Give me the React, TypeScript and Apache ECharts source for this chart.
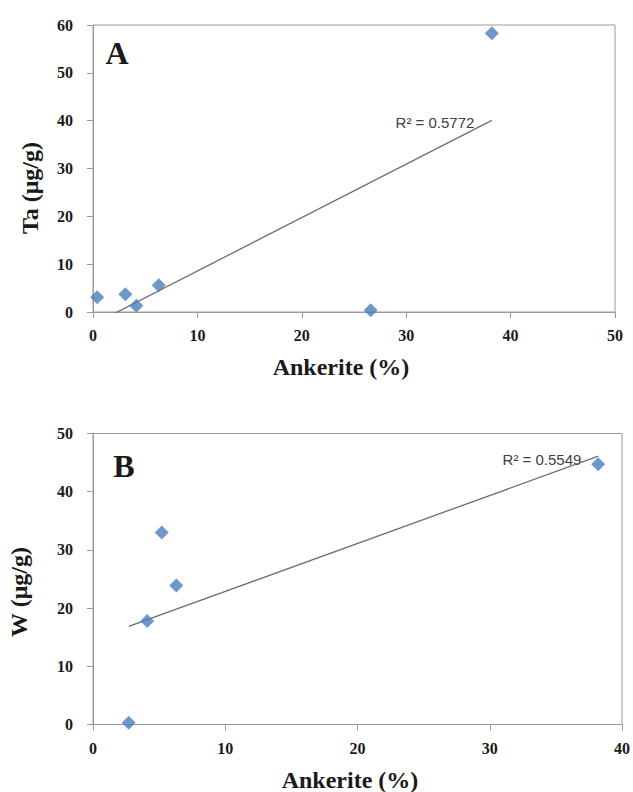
import React, { useEffect, useRef } from "react";
import * as echarts from "echarts";

// Panel A: Ta vs Ankerite
const taAnkerite = [0.4, 3.1, 4.15, 6.3, 26.6, 38.2];
const taValues = [3.1, 3.7, 1.3, 5.6, 0.35, 58.3];
const r2LabelA = "R\u00B2 = 0.5772";

// Panel B: W vs Ankerite
const wAnkerite = [2.7, 4.1, 5.2, 6.3, 38.2];
const wValues = [0.3, 17.8, 33.0, 23.9, 44.7];
const r2LabelB = "R\u00B2 = 0.5549";

const xTitle = "Ankerite (%)";
const yTitleA = "Ta (\u03BCg/g)";
const yTitleB = "W (\u03BCg/g)";

function fit(xs: number[], ys: number[]) {
  const n = xs.length;
  const mx = xs.reduce((a, b) => a + b, 0) / n;
  const my = ys.reduce((a, b) => a + b, 0) / n;
  let sxy = 0;
  let sxx = 0;
  for (let i = 0; i < n; i++) {
    sxy += (xs[i] - mx) * (ys[i] - my);
    sxx += (xs[i] - mx) * (xs[i] - mx);
  }
  const slope = sxy / sxx;
  const icpt = my - slope * mx;
  const x0 = Math.min(...xs);
  const x1 = Math.max(...xs);
  return [
    [x0, icpt + slope * x0],
    [x1, icpt + slope * x1],
  ];
}

const SERIF = "Liberation Serif";
const SANS = "Liberation Sans";
const AXIS_COLOR = "#9a9a9a";
const MARK_COLOR = "#4a7ebb";

function axisCommon(max: number) {
  return {
    min: 0,
    max,
    interval: 10,
    splitLine: { show: false },
    axisLine: { show: true, onZero: false, lineStyle: { color: AXIS_COLOR, width: 1 } },
    axisTick: { show: true, inside: false, length: 6, lineStyle: { color: AXIS_COLOR } },
  };
}

export default function App() {
  const ref = useRef<HTMLDivElement>(null);
  useEffect(() => {
    if (!ref.current) return;
    const chart = echarts.init(ref.current, undefined, { renderer: "svg" });
    const labelStyle = {
      fontFamily: SERIF,
      fontWeight: "bold",
      fontSize: 16,
      color: "#1a1a1a",
    };
    const text = (
      t: string,
      x: number,
      y: number,
      size: number,
      family: string,
      weight: string,
      fill: string,
      rot = 0
    ) => ({
      type: "text",
      x,
      y,
      rotation: rot,
      style: {
        text: t,
        fontSize: size,
        fontFamily: family,
        fontWeight: weight,
        fill,
        textAlign: "center",
        textVerticalAlign: "middle",
        align: "center",
        verticalAlign: "middle",
      },
    });
    chart.setOption({
      animation: false,
      backgroundColor: "#ffffff",
      textStyle: { fontFamily: SERIF },
      grid: [
        { left: 93, top: 25, width: 522, height: 287, show: true, borderColor: AXIS_COLOR, borderWidth: 1, backgroundColor: "transparent" },
        { left: 93, top: 433.5, width: 529, height: 291, show: true, borderColor: AXIS_COLOR, borderWidth: 1, backgroundColor: "transparent" },
      ],
      xAxis: [
        { type: "value", gridIndex: 0, ...axisCommon(50), axisLabel: { ...labelStyle, margin: 15 } },
        { type: "value", gridIndex: 1, ...axisCommon(40), axisLabel: { ...labelStyle, margin: 16 } },
      ],
      yAxis: [
        { type: "value", gridIndex: 0, ...axisCommon(60), axisLabel: { ...labelStyle, margin: 20 } },
        { type: "value", gridIndex: 1, ...axisCommon(50), axisLabel: { ...labelStyle, margin: 20 } },
      ],
      series: [
        {
          type: "line",
          xAxisIndex: 0,
          yAxisIndex: 0,
          data: fit(taAnkerite, taValues),
          showSymbol: false,
          symbol: "none",
          clip: true,
          lineStyle: { color: "#6e6e6e", width: 1.3 },
          z: 2,
        },
        {
          type: "scatter",
          xAxisIndex: 0,
          yAxisIndex: 0,
          data: taAnkerite.map((x, i) => [x, taValues[i]]),
          symbol: "diamond",
          symbolSize: 14,
          itemStyle: { color: MARK_COLOR },
          clip: false,
          z: 3,
        },
        {
          type: "line",
          xAxisIndex: 1,
          yAxisIndex: 1,
          data: fit(wAnkerite, wValues),
          showSymbol: false,
          symbol: "none",
          clip: true,
          lineStyle: { color: "#6e6e6e", width: 1.3 },
          z: 2,
        },
        {
          type: "scatter",
          xAxisIndex: 1,
          yAxisIndex: 1,
          data: wAnkerite.map((x, i) => [x, wValues[i]]),
          symbol: "diamond",
          symbolSize: 14,
          itemStyle: { color: MARK_COLOR },
          clip: false,
          z: 3,
        },
      ],
      graphic: [
        text("A", 117, 53, 32, SERIF, "bold", "#1a1a1a"),
        text("B", 124, 466, 32, SERIF, "bold", "#1a1a1a"),
        text(xTitle, 341, 367, 24, SERIF, "bold", "#1a1a1a"),
        text(xTitle, 350, 780, 24, SERIF, "bold", "#1a1a1a"),
        text(yTitleA, 30, 188, 24, SERIF, "bold", "#1a1a1a", Math.PI / 2),
        text(yTitleB, 19, 592, 24, SERIF, "bold", "#1a1a1a", Math.PI / 2),
        text(r2LabelA, 435, 122, 15, SANS, "normal", "#404040"),
        text(r2LabelB, 542, 459, 15, SANS, "normal", "#404040"),
      ],
    });
    return () => chart.dispose();
  }, []);
  return (
    <div
      ref={ref}
      style={{ position: "absolute", left: 0, top: 0, width: 633, height: 792, background: "#fff" }}
    />
  );
}
